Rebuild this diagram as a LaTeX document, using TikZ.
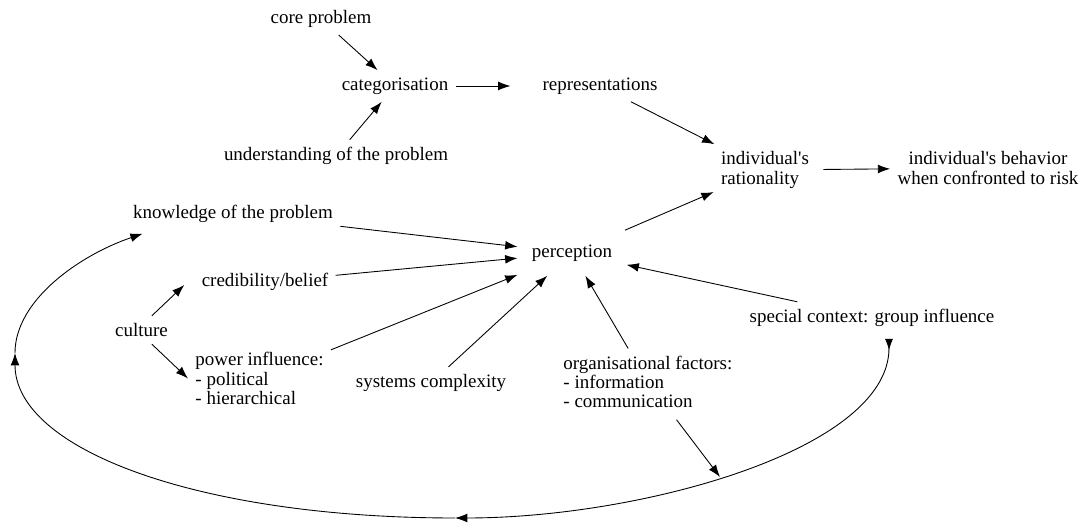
\documentclass[tikz,border=0pt]{standalone}
\usepackage{fontspec}
\setmainfont{Liberation Serif}
\usetikzlibrary{arrows.meta}
\begin{document}
\begin{tikzpicture}[>={Latex[length=7pt,width=5pt]}, line width=0.5pt,
  txt/.style={inner sep=4pt, font=\fontsize{10.8}{11}\selectfont},
  lst/.style={txt, align=left},
  ctr/.style={txt, align=center}]
\useasboundingbox (0,0) rectangle (21.62,10.46);
\node[txt](core) at (6.42,10.08) {core problem};
\node[txt](cat) at (7.90,8.74) {categorisation};
\node[txt](und) at (6.72,7.34) {understanding of the problem};
\node[txt](rep) at (12.00,8.74) {representations};
\node[lst](rat) at (15.30,7.06) {individual\textquotesingle s\\rationality};
\node[ctr](beh) at (19.76,7.10) {individual\textquotesingle s behavior\\when confronted to risk};
\node[txt](know) at (4.66,6.18) {knowledge of the problem};
\node[txt, inner sep=8pt](perc) at (11.44,5.40) {perception};
\node[txt](cred) at (5.30,4.82) {credibility/belief};
\node[txt](cult) at (2.83,3.86) {culture};
\node[lst, anchor=west](pow) at (3.76,2.89) {power influence:\\- political\\- hierarchical};
\node[txt](sys) at (8.62,2.80) {systems complexity};
\node[lst, anchor=west](org) at (11.12,2.82) {organisational factors:\\- information\\- communication};
\node[txt](spec) at (17.44,4.10) {special context: group influence};
\coordinate (loopstart) at (17.78,3.68);
\coordinate (loopbot) at (9.10,0.10);
\coordinate (loopleft) at (0.30,3.40);
\coordinate (loophit) at (14.40,0.92);
\draw[->] (core) -- (cat);
\draw[->] (und) -- (cat);
\draw[->, shorten >=14pt] (cat) -- (rep);
\draw[->] (rep) -- (rat);
\draw[->, shorten <=4pt] (rat) -- (beh);
\draw[->] (perc) -- (rat);
\draw[->] (know) -- (perc);
\draw[->] (cred) -- (perc);
\draw[->] (pow) -- (perc);
\draw[->] (sys) -- (perc);
\draw[->] (org) -- (perc);
\draw[->] (spec) -- (perc);
\draw[->] ([xshift=-0.47cm]cult.north east) -- ([xshift=-0.2cm,yshift=-0.06cm]cred.west);
\draw[->] ([xshift=-0.47cm]cult.south east) -- (pow.west);
\draw[->, shorten <=3pt] (org) -- (loophit);
% feedback loop
\draw[{Latex[reversed,length=6.5pt,width=4.5pt]}->] (loopstart) .. controls (17.78,1.46) and (12.80,0.10) .. (loopbot);
\draw[->] (loopbot) .. controls (4.00,0.10) and (0.30,1.46) .. (loopleft);
\draw[->] (loopleft) .. controls (0.30,4.46) and (1.60,5.36) .. ([shift={(0.34,-0.07)}]know.south west);
\end{tikzpicture}
\end{document}
